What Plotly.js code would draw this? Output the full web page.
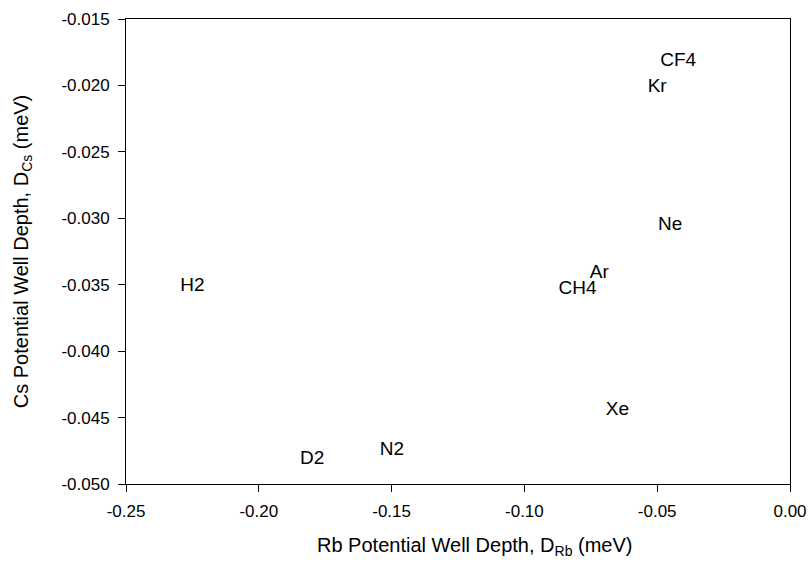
<!DOCTYPE html>
<html>
<head>
<meta charset="utf-8">
<script src="https://cdn.plot.ly/plotly-3.0.1.min.js"></script>
<style>html,body{margin:0;padding:0;background:#fff;}#chart{width:812px;height:567px;}</style>
</head>
<body>
<div id="chart"></div>
<script>
const gases = ["CF4", "Kr", "Ne", "Ar", "CH4", "H2", "D2", "N2", "Xe"];
const rbDepth = [-0.0421, -0.0500, -0.0451, -0.0718, -0.0800, -0.2250, -0.1799, -0.1499, -0.0650];
const csDepth = [-0.01818, -0.02010, -0.03049, -0.03411, -0.03535, -0.03515, -0.04815, -0.04748, -0.04443];
const xTicks = [-0.25, -0.20, -0.15, -0.10, -0.05, 0.00];
const xTickText = ["-0.25", "-0.20", "-0.15", "-0.10", "-0.05", "0.00"];
const yTicks = [-0.050, -0.045, -0.040, -0.035, -0.030, -0.025, -0.020, -0.015];
const yTickText = ["-0.050", "-0.045", "-0.040", "-0.035", "-0.030", "-0.025", "-0.020", "-0.015"];
const xTitle = "Rb Potential Well Depth, D<sub>Rb</sub> (meV)";
const yTitle = "Cs Potential Well Depth, D<sub>Cs</sub> (meV)";

const fontFam = "Liberation Sans, Arial, sans-serif";

const trace = {
  x: rbDepth,
  y: csDepth,
  text: gases,
  mode: "text",
  type: "scatter",
  textposition: "middle center",
  textfont: {family: fontFam, size: 19, color: "#000"},
  hoverinfo: "x+y+text",
  showlegend: false
};

const layout = {
  width: 812,
  height: 567,
  margin: {l: 125.5, r: 21.5, t: 19.3, b: 83},
  paper_bgcolor: "#fff",
  plot_bgcolor: "#fff",
  font: {family: fontFam, color: "#000"},
  showlegend: false,
  xaxis: {
    range: [-0.25, 0.0],
    tickvals: xTicks,
    ticktext: xTickText,
    ticks: "outside",
    ticklen: 7,
    tickwidth: 1,
    tickcolor: "#000",
    ticklabelstandoff: 5,
    showline: true,
    linecolor: "#000",
    linewidth: 1,
    mirror: true,
    showgrid: false,
    zeroline: false,
    tickfont: {family: fontFam, size: 17, color: "#000"},
    automargin: false
  },
  yaxis: {
    range: [-0.050, -0.015],
    tickvals: yTicks,
    ticktext: yTickText,
    ticks: "outside",
    ticklen: 7,
    tickwidth: 1,
    tickcolor: "#000",
    ticklabelstandoff: 5,
    showline: true,
    linecolor: "#000",
    linewidth: 1,
    mirror: true,
    showgrid: false,
    zeroline: false,
    tickfont: {family: fontFam, size: 17, color: "#000"},
    title: {text: yTitle, font: {family: fontFam, size: 20, color: "#000"}, standoff: 27},
    automargin: false
  },
  annotations: [{
    text: xTitle,
    xref: "paper", yref: "paper",
    x: 0.525, y: 0,
    xanchor: "center", yanchor: "top",
    yshift: -48,
    showarrow: false,
    font: {family: fontFam, size: 20, color: "#000"}
  }]
};

Plotly.newPlot("chart", [trace], layout, {displayModeBar: false, staticPlot: true});
</script>
</body>
</html>
